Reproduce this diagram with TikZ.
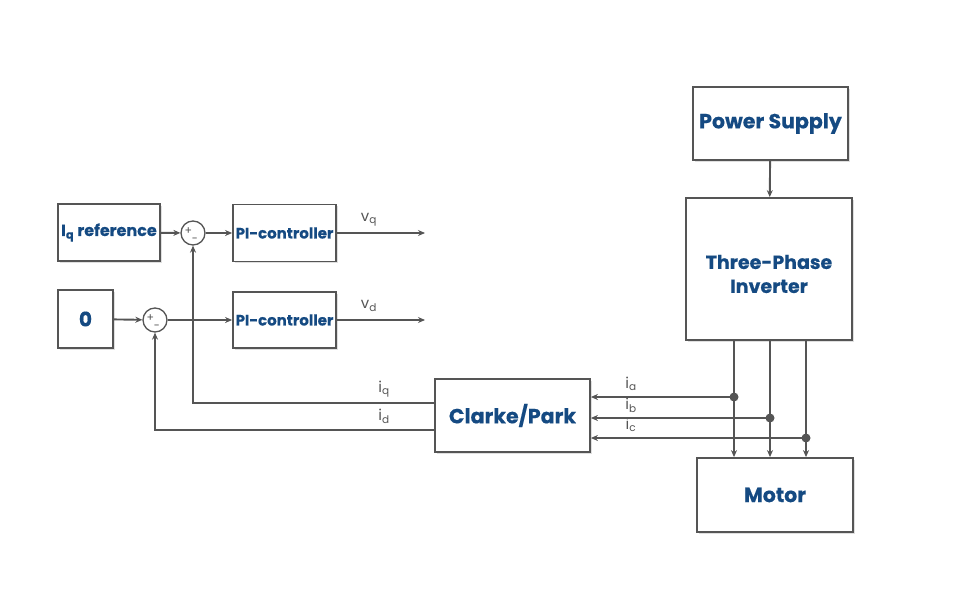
\documentclass[tikz,border=0pt]{standalone}
\usepackage{fontspec}
\setmainfont{Poppins}
\newfontfamily\boxfont{Poppins}[UprightFont=* Bold, FakeBold=0.4]
\usetikzlibrary{arrows.meta,shadows}
\definecolor{txtblue}{HTML}{154A82}
\definecolor{linegray}{HTML}{555555}
\begin{document}
\begin{tikzpicture}[x=1pt,y=-1pt,
  box/.style={draw=linegray, line width=1.8pt, fill=white, inner sep=0pt,
    text=txtblue, align=center,
    drop shadow={shadow xshift=1.5pt, shadow yshift=-1.5pt, opacity=0.25, fill=gray}},
  boxtext/.style={text=txtblue, align=center, inner sep=0pt},
  sumnode/.style={circle, draw=linegray, line width=1.3pt, minimum size=24pt, inner sep=0pt, fill=white},
  wire/.style={draw=linegray, line width=1.9pt},
  arr/.style={wire, -{Stealth[length=7pt,width=6pt]}},
  lbl/.style={text=linegray, font=\fontsize{15}{15}\selectfont, inner sep=0pt},
  sgn/.style={text=linegray, font=\fontsize{11}{11}\selectfont, inner sep=0pt},
  dot/.style={circle, fill=linegray, minimum size=9pt, inner sep=0pt}]
\useasboundingbox (0,0) rectangle (964,602);

\node[box, minimum width=155pt, minimum height=73pt, font=\boxfont\fontsize{20.5}{24}\selectfont] (ps) at (770.5,123.5) {Power Supply};
\node[box, minimum width=166pt, minimum height=142pt] (inv) at (769,269) {};
\node[boxtext, font=\boxfont\fontsize{19}{24}\selectfont] (invtext) at ([yshift=-5pt]inv.center) {Three-Phase\\Inverter};
\node[box, minimum width=156pt, minimum height=74pt, font=\boxfont\fontsize{20.5}{24}\selectfont] (motor) at (775,495) {Motor};
\node[box, minimum width=155pt, minimum height=73pt, font=\boxfont\fontsize{20.5}{24}\selectfont] (cp) at (512.5,415.5) {Clarke/Park};
\node[box, minimum width=102pt, minimum height=57pt, font=\boxfont\fontsize{16}{18}\selectfont] (iqref) at (109,232.5) {I\textsubscript{q} reference};
\node[box, minimum width=55pt, minimum height=58pt, font=\boxfont\fontsize{20}{22}\selectfont] (zero) at (85.5,319) {0};
\node[box, minimum width=103pt, minimum height=57pt, font=\boxfont\fontsize{15}{18}\selectfont] (pi1) at (284.5,233) {PI-controller};
\node[box, minimum width=103pt, minimum height=56pt, font=\boxfont\fontsize{15}{18}\selectfont] (pi2) at (284.5,320) {PI-controller};

\node[sumnode] (s1) at (193,233) {};
\node[sumnode] (s2) at (155,320) {};
\node[sgn] at ([xshift=-4.5pt,yshift=1.5pt]s1.center) {+};
\node[sgn] at ([xshift=2pt,yshift=-7.5pt]s1.center) {-};
\node[sgn] at ([xshift=-4.5pt,yshift=1.5pt]s2.center) {+};
\node[sgn] at ([xshift=2pt,yshift=-7.5pt]s2.center) {-};

\coordinate (vqend) at (425,233);
\coordinate (vdend) at (425,320);
\draw[arr] (iqref) -- (s1);
\draw[arr] (s1) -- (pi1);
\draw[arr] (pi1) -- (vqend);
\draw[arr] (zero) -- (s2);
\draw[arr] (s2) -- (pi2);
\draw[arr] (pi2) -- (vdend);
\node[lbl] at (369,220) {v\textsubscript{q}};
\node[lbl] at (369,306) {v\textsubscript{d}};

\coordinate (cpq) at (cp.west |- 0,403);
\coordinate (cpd) at (cp.west |- 0,430);
\draw[arr] (cpq) -| (s1.south);
\draw[arr] (cpd) -| (s2.south);
\node[lbl] at (384,389) {i\textsubscript{q}};
\node[lbl] at (384,416) {i\textsubscript{d}};

\draw[arr] (ps) -- (inv);

\coordinate (ta) at (inv.south -| 734,0);
\coordinate (tb) at (inv.south -| 770,0);
\coordinate (tc) at (inv.south -| 806,0);
\coordinate (ba) at (motor.north -| 734,0);
\coordinate (bb) at (motor.north -| 770,0);
\coordinate (bc) at (motor.north -| 806,0);
\draw[arr] (ta) -- (ba);
\draw[arr] (tb) -- (bb);
\draw[arr] (tc) -- (bc);
\node[dot] (da) at (734,397) {};
\node[dot] (db) at (770,418) {};
\node[dot] (dc) at (806,438) {};
\draw[arr] (da.center) -- (cp.east |- da);
\draw[arr] (db.center) -- (cp.east |- db);
\draw[arr] (dc.center) -- (cp.east |- dc);
\node[lbl] at (631,384) {i\textsubscript{a}};
\node[lbl] at (631,405) {i\textsubscript{b}};
\node[lbl] at (631,425) {i\textsubscript{c}};
\end{tikzpicture}
\end{document}
